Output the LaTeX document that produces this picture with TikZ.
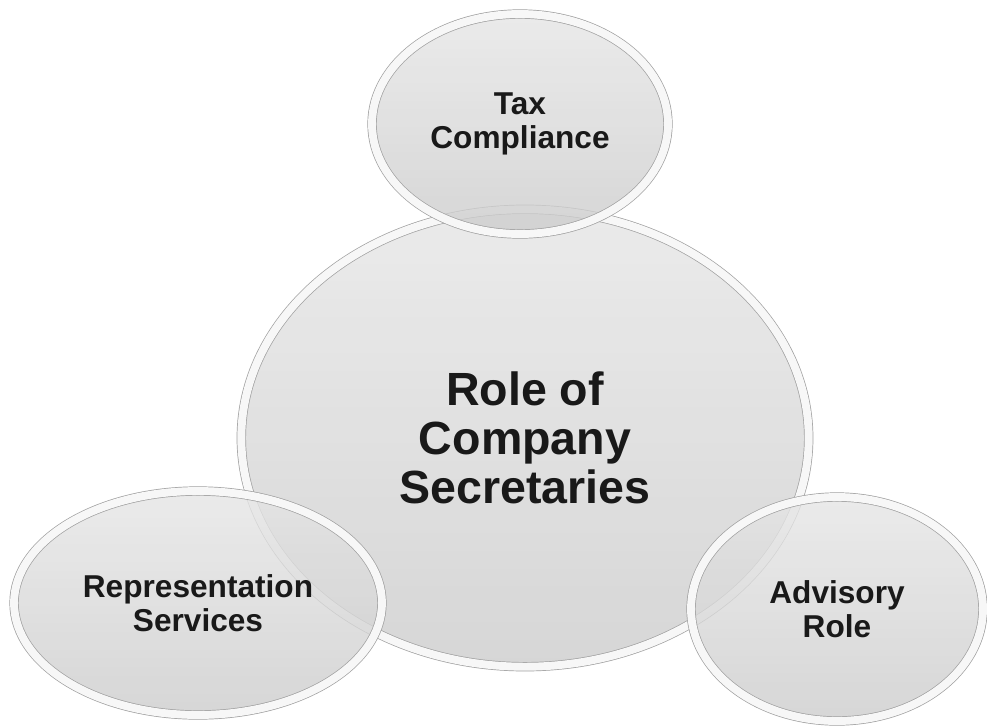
\documentclass[tikz,border=0pt]{standalone}
\usepackage{fontspec}
\setmainfont{Liberation Sans}
\usetikzlibrary{shapes.geometric}
\begin{document}
\begin{tikzpicture}[x=0.02cm,y=-0.02cm,
    every node/.style={ellipse,align=center,inner sep=0pt,font=\bfseries\fontsize{18}{19}\selectfont,text=black!90},
    bubble/.style={draw=gray!75,line width=0.4pt,double=gray!6,double distance=4.5pt,
      top color=gray!20,bottom color=gray!40,fill opacity=0.8,text opacity=1}]
    \useasboundingbox (0,0) rectangle (987,727);
    \node[bubble,minimum width=11.35cm,minimum height=9.15cm,font=\bfseries\fontsize{26.5}{28}\selectfont] (role) at (525,438) {Role of\\Company\\Secretaries};
    \node[bubble,minimum width=5.92cm,minimum height=4.4cm] (tax) at (520,124) {Tax\\Compliance};
    \node[bubble,minimum width=7.36cm,minimum height=4.48cm] (rep) at (198,603) {Representation\\Services};
    \node[bubble,minimum width=5.84cm,minimum height=4.48cm] (adv) at (837,609) {Advisory\\Role};
\end{tikzpicture}
\end{document}
